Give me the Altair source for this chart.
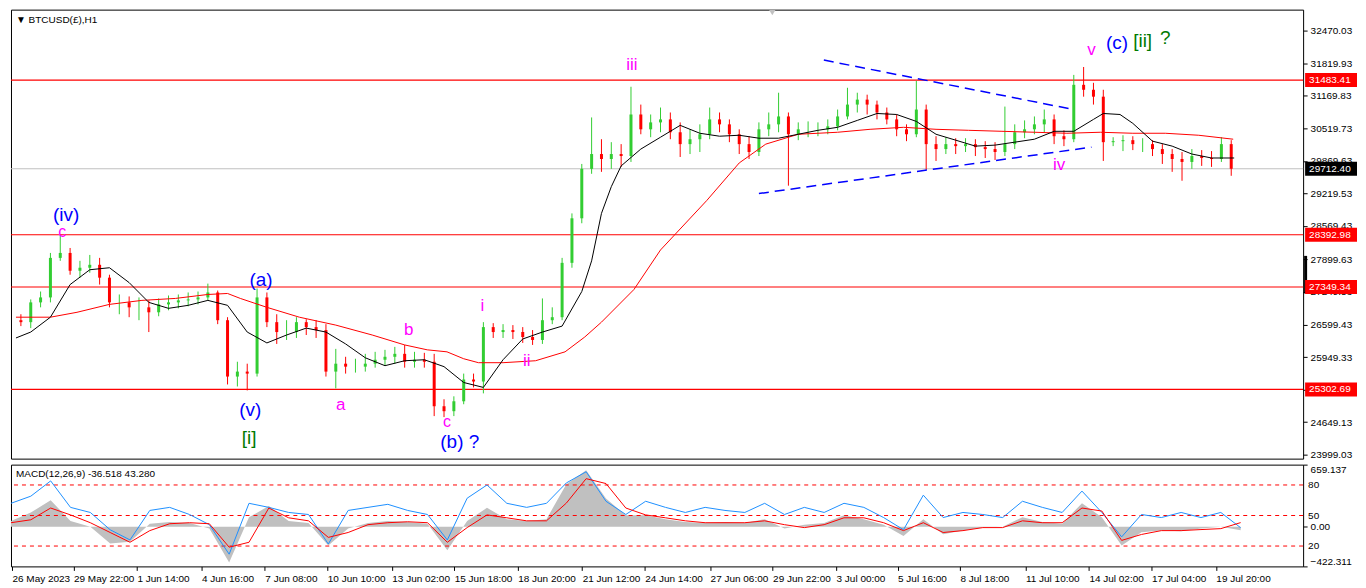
import json
import altair as alt
import pandas as pd

W, H1, H2 = 1295, 450, 102
X_DOMAIN = [0, 1303]
P_DOMAIN = [23920, 32891]
M_DOMAIN = [-422.311, 659.137]
FONT = "Liberation Sans"

# ---------------- data ----------------
time_labels = ["26 May 2023", "29 May 22:00", "1 Jun 14:00", "4 Jun 16:00", "7 Jun 08:00",
               "10 Jun 10:00", "13 Jun 02:00", "15 Jun 18:00", "18 Jun 20:00", "21 Jun 12:00",
               "24 Jun 14:00", "27 Jun 06:00", "29 Jun 22:00", "3 Jul 00:00", "5 Jul 16:00",
               "8 Jul 18:00", "11 Jul 10:00", "14 Jul 02:00", "17 Jul 04:00", "19 Jul 20:00"]
tick_bars = [1, 63, 127, 192, 256, 319, 384, 447, 511, 576, 639, 705, 768, 832, 894,
             957, 1023, 1087, 1150, 1215]
price_ticks = [23999.03, 24649.13, 25299.23, 25949.33, 26599.43, 27249.53, 27899.63,
               28569.43, 29219.53, 29869.63, 30519.73, 31169.83, 31819.93, 32470.03]

# candle closes (first value = first open), highs, lows  (10-hour candles)
candle_closes = [26686, 26647, 27042, 27141, 27931, 28030, 27674, 27734, 27793, 27536,
                 27042, 27042, 26943, 26943, 26844, 27002, 27042, 27082, 27101, 27141,
                 27240, 26686, 25560, 25659, 25619, 27141, 26647, 26449, 26449, 26647,
                 26548, 26489, 25659, 25817, 25758, 25758, 25817, 25896, 25955, 26014,
                 25856, 25896, 25856, 24967, 24868, 25066, 25501, 25461, 26548, 26449,
                 26489, 26449, 26350, 26291, 26686, 26746, 27832, 28722, 29710, 30006,
                 29907, 30006, 29966, 30796, 30500, 30638, 30698, 30441, 30204, 30302,
                 30401, 30698, 30599, 30401, 30204, 30046, 30500, 30599, 30757, 30401,
                 30500, 30500, 30500, 30559, 30757, 30994, 31093, 30994, 30836, 30698,
                 30500, 30401, 30895, 30204, 30105, 30204, 30164, 30204, 30144, 30105,
                 30046, 30204, 30441, 30500, 30599, 30698, 30362, 30302, 31389, 31290,
                 31152, 30243, 30263, 30283, 30204, 30204, 30105, 30006, 29907, 29848,
                 29966, 29927, 29907, 30204, 29712]
candle_highs = [26805, 27101, 27259, 28030, 28386, 28129, 27872, 27990, 27931, 27595,
                27200, 27161, 27141, 27082, 27121, 27180, 27200, 27240, 27259, 27417,
                27279, 26746, 25856, 25817, 27319, 27240, 26805, 26686, 26746, 26706,
                26686, 26607, 26113, 25955, 25916, 26014, 26054, 26094, 26153, 26192,
                26054, 26034, 26014, 25106, 25165, 25619, 25619, 26647, 26627, 26607,
                26588, 26548, 26489, 27121, 26943, 27931, 28820, 29808, 30737, 30302,
                30243, 30204, 31350, 30994, 30796, 30935, 30836, 30638, 30500, 30599,
                30935, 30836, 30698, 30500, 30362, 30638, 30836, 31231, 30836, 30638,
                30658, 30638, 30698, 30895, 31330, 31231, 31192, 31073, 30935, 30796,
                30599, 31468, 30994, 30362, 30342, 30322, 30322, 30302, 30263, 30243,
                30954, 30599, 30678, 30757, 30895, 30796, 30480, 31587, 31745, 31429,
                31290, 30342, 30381, 30362, 30322, 30283, 30204, 30105, 30046, 30105,
                30085, 30065, 30342, 30283]
candle_lows = [26568, 26528, 26943, 27042, 27872, 27595, 27536, 27635, 27398, 26943,
               26805, 26746, 26686, 26449, 26765, 26884, 26923, 26963, 27002, 27082,
               26607, 25402, 25362, 25283, 25560, 26548, 26212, 26291, 26331, 26390,
               26331, 25560, 25323, 25619, 25639, 25659, 25738, 25777, 25817, 25738,
               25738, 25738, 24770, 24750, 24770, 25007, 25343, 25224, 26331, 26331,
               26311, 26232, 26192, 26212, 26607, 26686, 27734, 28623, 29611, 29650,
               29710, 29749, 29848, 30401, 30342, 30441, 30302, 29947, 30006, 30046,
               30302, 30441, 30243, 30006, 29907, 29966, 30362, 30441, 29374, 30283,
               30342, 30362, 30401, 30480, 30698, 30836, 30796, 30698, 30599, 30362,
               30263, 30342, 29690, 29868, 30006, 30006, 30046, 29966, 29927, 29887,
               29966, 30105, 30322, 30401, 30441, 30204, 30164, 30243, 31152, 30994,
               29868, 30164, 30065, 30085, 30046, 29966, 29808, 29650, 29472, 29710,
               29769, 29749, 29848, 29571]
candle_bars = list(range(5, 1245, 10))

# moving averages
ma_fast_bars = [0, 15, 35, 55, 75, 95, 115, 135, 155, 175, 195, 215, 235, 255, 275, 295, 315,
                335, 355, 375, 395, 415, 435, 455, 475, 495, 515, 535, 555, 575, 585, 595, 605,
                615, 635, 655, 675, 695, 715, 735, 755, 775, 795, 815, 835, 855, 875, 895, 915,
                935, 955, 975, 995, 1015, 1035, 1055, 1075, 1095, 1105, 1122, 1135, 1155, 1175,
                1195, 1215, 1238]
ma_fast_vals = [26331, 26449, 26746, 27398, 27694, 27734, 27437, 27042, 26923, 26983, 27082,
                26983, 26449, 26232, 26390, 26528, 26449, 26212, 25935, 25777, 25876, 25896,
                25758, 25441, 25343, 25896, 26311, 26449, 26568, 27259, 27872, 28820, 29354,
                29769, 30105, 30342, 30579, 30421, 30362, 30381, 30322, 30322, 30401, 30480,
                30540, 30678, 30816, 30796, 30658, 30401, 30283, 30164, 30184, 30243, 30302,
                30460, 30460, 30698, 30816, 30796, 30619, 30263, 30164, 30006, 29927, 29927]
ma_slow_bars = [0, 35, 62, 95, 128, 162, 195, 215, 228, 255, 288, 325, 362, 395, 418, 438, 455,
                470, 495, 528, 558, 578, 595, 628, 655, 702, 735, 762, 795, 835, 868, 902, 935,
                968, 1002, 1035, 1068, 1102, 1135, 1168, 1202, 1237]
ma_slow_vals = [26746, 26746, 26844, 27002, 27082, 27121, 27200, 27220, 27121, 26943, 26746,
                26588, 26390, 26192, 26094, 26054, 25916, 25837, 25837, 25876, 26054, 26350,
                26647, 27299, 28089, 29077, 29828, 30204, 30401, 30441, 30500, 30540, 30500,
                30480, 30460, 30441, 30421, 30441, 30421, 30421, 30381, 30302]

level_values = [31483.41, 28392.98, 27349.34, 25302.69]
current_price = 29712.40

trend_line_id = ["upper", "upper", "lower", "lower"]
trend_bars = [821, 1075, 755, 1093]
trend_prices = [31883, 30895, 29216, 30144]

wave_text = ["(iv)", "c", "(a)", "(v)", "[i]", "a", "b", "c", "(b) ?", "i", "ii", "iii",
             "iv", "v", "(c)", "[ii]", "?"]
wave_bar = [51, 47, 249, 238, 237, 330, 399, 438, 451, 474, 519, 626, 1060, 1093, 1119, 1145, 1168]
wave_price = [28790, 28450, 27497, 24888, 24335, 24987, 26489, 24650, 24250, 26963, 25876,
              31790, 29789, 32081, 32219, 32259, 32318]
wave_color = ["#0000ff", "#ff00ff", "#0000ff", "#0000ff", "#007a00", "#ff00ff", "#ff00ff",
              "#ff00ff", "#0000ff", "#ff00ff", "#ff00ff", "#ff00ff", "#ff00ff", "#ff00ff",
              "#0000ff", "#007a00", "#007a00"]
wave_size = [19, 16, 19, 19, 19, 17, 17, 16, 19, 17, 17, 17, 17, 17, 19, 19, 19]

# visible-range marker on the price scale (terminal scroll indicator)
scroll_range = [27220, 27971]

# MACD sub-window (sampled every 20 bars)
macd_bars = list(range(0, 1241, 20))
macd_hist = [60, 150, 280, 60, 0, -180, -160, 30, 50, 40, -20, -380, 100, 220, 60, 40, -200,
             -20, 40, 60, 50, 30, -250, 60, 200, 80, 60, 80, 450, 600, 300, 120, 120, 80, 50,
             40, 50, 40, 80, -20, 20, 40, 120, 80, 20, -100, 80, -80, -40, -10, 0, 100, 50, 30,
             250, 100, -200, -60, -40, -50, -20, 0, -37]
macd_signal = [42, 73, 198, 125, 42, -62, -166, -42, 31, 42, 31, -218, -166, 198, 94, 62, -114,
               -62, 21, 42, 52, 42, -166, -10, 125, 94, 62, 62, 250, 510, 458, 198, 125, 94, 62,
               42, 42, 42, 62, 21, -10, 21, 94, 94, 42, -42, 42, -62, -42, -10, -10, 62, 42, 42,
               198, 166, -146, -83, -42, -42, -31, -21, 43]
osc_values = [62, 69, 84, 58, 53, 36, 26, 55, 58, 51, 41, 12, 62, 58, 53, 51, 22, 55, 58, 61,
              55, 51, 26, 67, 80, 62, 58, 62, 82, 93, 64, 51, 64, 58, 53, 58, 55, 53, 62, 51,
              58, 53, 62, 58, 48, 36, 70, 48, 53, 51, 48, 64, 58, 53, 74, 53, 29, 51, 48, 53,
              48, 53, 38]
osc_levels = [80, 50, 20]

# ---------------- tables ----------------
rows = []
for i, b in enumerate(candle_bars):
    o, c = candle_closes[i], candle_closes[i + 1]
    rows.append(dict(bar=b, open=o, close=c,
                     high=max(candle_highs[i], o, c), low=min(candle_lows[i], o, c),
                     dir="up" if c >= o else "down"))
cand = pd.DataFrame(rows)
fast = pd.DataFrame({"bar": ma_fast_bars, "v": ma_fast_vals})
slow = pd.DataFrame({"bar": ma_slow_bars, "v": ma_slow_vals})
levels = pd.DataFrame({"v": level_values})
cur = pd.DataFrame({"v": [current_price]})
boxes = pd.DataFrame({
    "v": level_values + [current_price],
    "label": [f"{v:.2f}" for v in level_values + [current_price]],
    "fill": ["#ff0000"] * len(level_values) + ["#000000"],
})
boxes["lo"] = boxes["v"] - 140
boxes["hi"] = boxes["v"] + 140
trend = pd.DataFrame({"id": trend_line_id, "bar": trend_bars, "v": trend_prices})
waves = pd.DataFrame({"t": wave_text, "bar": wave_bar, "v": wave_price,
                      "c": wave_color, "s": wave_size})
scroll = pd.DataFrame({"lo": [scroll_range[0]], "hi": [scroll_range[1]]})
macd = pd.DataFrame({"bar": macd_bars, "hist": macd_hist, "sig": macd_signal, "osc": osc_values})
osc_lv = pd.DataFrame({"v": osc_levels, "label": [str(v) for v in osc_levels]})

# ---------------- scales / axes ----------------
xs = alt.Scale(domain=X_DOMAIN, nice=False, zero=False)
ys = alt.Scale(domain=P_DOMAIN, nice=False, zero=False)
ms = alt.Scale(domain=M_DOMAIN, nice=False, zero=False)
os_ = alt.Scale(domain=[0, 100], nice=False, zero=False)

pax = alt.Axis(orient="right", values=price_ticks, format=".2f", tickSize=4, labelPadding=3,
               domain=False, grid=False, title=None, labelOverlap=False, labelFlush=False)
label_expr = f"{json.dumps(time_labels)}[indexof({json.dumps(tick_bars)}, datum.value)]"
xax = alt.Axis(values=tick_bars, labelExpr=label_expr, labelAlign="left", labelPadding=3,
               tickSize=4, domain=False, grid=False, title=None, labelOverlap=False,
               labelFlush=False, labelBound=False)
max_ = alt.Axis(orient="right", values=[659.137, 0, -422.311], tickSize=4, labelPadding=3,
                labelExpr="datum.value == 0 ? '0.00' : format(datum.value, '.3f')",
                labelFlush=True, domain=False, grid=False, title=None, labelOverlap=False)

XP = alt.X("bar:Q", scale=xs, axis=None)
colscale = alt.Scale(domain=["up", "down"], range=["#32cd32", "#ff0000"])

# ---------------- price panel ----------------
hl = alt.Chart(levels).mark_rule(color="#ff0000", strokeWidth=1.2).encode(
    y=alt.Y("v:Q", scale=ys, axis=pax))
cl = alt.Chart(cur).mark_rule(color="#c0c0c0", strokeWidth=1.2).encode(
    y=alt.Y("v:Q", scale=ys, axis=pax))
wick = alt.Chart(cand).mark_rule(strokeWidth=1).encode(
    x=XP, y=alt.Y("low:Q", scale=ys, axis=pax), y2="high:Q",
    color=alt.Color("dir:N", scale=colscale, legend=None))
body = alt.Chart(cand).mark_bar(size=3).encode(
    x=XP, y=alt.Y("open:Q", scale=ys, axis=pax), y2="close:Q",
    color=alt.Color("dir:N", scale=colscale, legend=None))
slow_l = alt.Chart(slow).mark_line(color="#ff0000", strokeWidth=1).encode(
    x=XP, y=alt.Y("v:Q", scale=ys, axis=pax))
fast_l = alt.Chart(fast).mark_line(color="#000000", strokeWidth=1).encode(
    x=XP, y=alt.Y("v:Q", scale=ys, axis=pax))
tr = alt.Chart(trend).mark_line(color="#0000ff", strokeWidth=1.5, strokeDash=[10, 6]).encode(
    x=XP, y=alt.Y("v:Q", scale=ys, axis=pax), detail="id:N")
wl = alt.Chart(waves).mark_text(font=FONT, align="center", baseline="middle").encode(
    x=XP, y=alt.Y("v:Q", scale=ys, axis=pax), text="t:N",
    color=alt.Color("c:N", scale=None), size=alt.Size("s:Q", scale=None))
sc = alt.Chart(scroll).mark_rect(color="black").encode(
    x=alt.value(W + 1), x2=alt.value(W + 4),
    y=alt.Y("lo:Q", scale=ys, axis=pax), y2="hi:Q")
bx = alt.Chart(boxes).mark_rect().encode(
    x=alt.value(W + 2), x2=alt.value(W + 54),
    y=alt.Y("lo:Q", scale=ys, axis=pax), y2="hi:Q",
    color=alt.Color("fill:N", scale=None))
bt = alt.Chart(boxes).mark_text(font=FONT, fontSize=10, color="white", align="left",
                                baseline="middle").encode(
    x=alt.value(W + 6), y=alt.Y("v:Q", scale=ys, axis=pax), text="label:N")
title = alt.Chart(pd.DataFrame({"t": ["\u25bc BTCUSD(\u00a3),H1"]})).mark_text(
    font=FONT, fontSize=10, align="left", baseline="top", color="black").encode(
    x=alt.value(5), y=alt.value(5), text="t:N")
shift_mark = alt.Chart(pd.DataFrame({"m": [1]})).mark_point(
    shape="triangle-down", filled=True, color="#c0c0c0", size=40, opacity=1).encode(
    x=alt.value(763), y=alt.value(3))

price = alt.layer(hl, cl, wick, body, slow_l, fast_l, tr, wl, sc, bx, bt, title,
                  shift_mark).properties(width=W, height=H1)

# ---------------- MACD panel ----------------
XM = alt.X("bar:Q", scale=xs, axis=xax)
hist = alt.Chart(macd).mark_area(color="#c0c0c0", opacity=1).encode(
    x=XM, y=alt.Y("hist:Q", scale=ms, axis=max_), y2=alt.datum(0))
sig = alt.Chart(macd).mark_line(color="#ff0000", strokeWidth=1).encode(
    x=XM, y=alt.Y("sig:Q", scale=ms, axis=None))
lv = alt.Chart(osc_lv).mark_rule(color="#ff0000", strokeDash=[4, 4], strokeWidth=1).encode(
    y=alt.Y("v:Q", scale=os_, axis=None))
osc = alt.Chart(macd).mark_line(color="#1e90ff", strokeWidth=1).encode(
    x=XM, y=alt.Y("osc:Q", scale=os_, axis=None))
lvt = alt.Chart(osc_lv).mark_text(font=FONT, fontSize=10, align="left", baseline="middle",
                                  color="black").encode(
    x=alt.value(W + 5), y=alt.Y("v:Q", scale=os_, axis=None), text="label:N")
mtitle = alt.Chart(pd.DataFrame({"t": ["MACD(12,26,9) -36.518 43.280"]})).mark_text(
    font=FONT, fontSize=10, align="left", baseline="top", color="black").encode(
    x=alt.value(5), y=alt.value(4), text="t:N")

macd_panel = alt.layer(hist, lv, osc, sig, lvt, mtitle).resolve_scale(y="independent").properties(
    width=W, height=H2)

chart = alt.vconcat(price, macd_panel, spacing=3).properties(
    padding=0, background="white"
).configure_view(stroke="black", strokeWidth=1).configure_axis(
    labelFont=FONT, labelFontSize=10, labelColor="black", tickColor="black"
)

chart.save("out.html", embed_options={"renderer": "svg", "actions": False})
